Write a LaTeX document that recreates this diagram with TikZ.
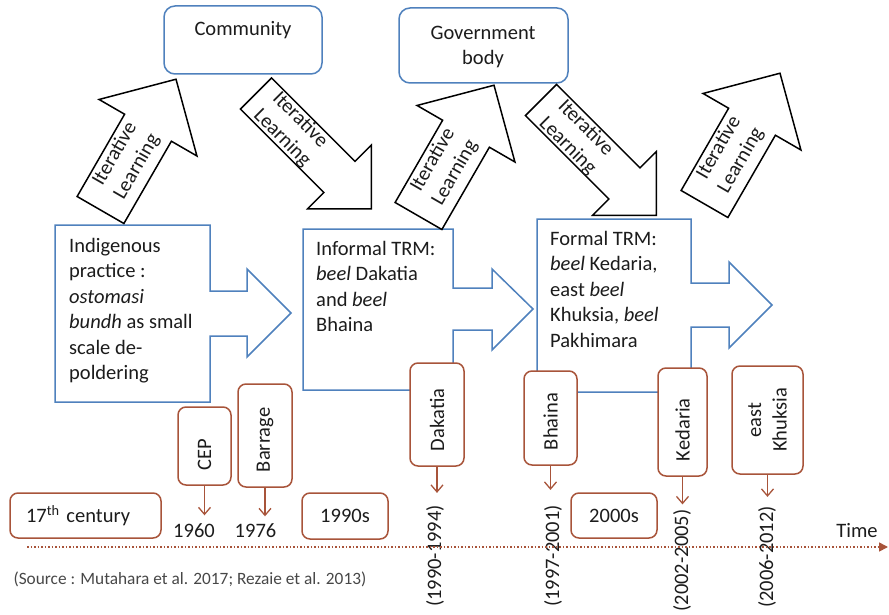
\documentclass[tikz,border=0pt]{standalone}
\usepackage{fontspec}
\setmainfont{Carlito}
\usetikzlibrary{arrows.meta}

\definecolor{boxblue}{RGB}{79,129,189}
\definecolor{datebrown}{RGB}{168,84,58}
\definecolor{txt}{RGB}{28,28,28}

\tikzset{
  every node/.style={font=\fontsize{20.5}{25.4}\selectfont, text=txt},
  learnarrow/.style={draw=black, line width=1.5pt, fill=white, line join=miter},
  uparrowpic/.pic={\draw[learnarrow] (0,-27) -- (95,-27) -- (95,-56.5) -- (151,0)
      -- (95,56.5) -- (95,27) -- (0,27) -- cycle;},
  downarrowpic/.pic={\draw[learnarrow] (0,-22) -- (118,-22) -- (118,-45) -- (163,0)
      -- (118,45) -- (118,22) -- (0,22) -- cycle;},
  learntext/.style={align=center, inner sep=0pt},
  actorbox/.style={draw=boxblue, line width=1.5pt, rounded corners=11pt, fill=white},
  stagebody/.style={draw=boxblue, line width=1.5pt, fill=white, line join=miter},
  stagetext/.style={align=left, anchor=north west, inner sep=0pt},
  eventbox/.style={draw=datebrown, line width=1.5pt, rounded corners=8pt, fill=white,
      rotate=90, inner xsep=15pt, inner ysep=0pt, align=left},
  erabox/.style={draw=datebrown, line width=1.5pt, rounded corners=8pt, fill=white},
  eventlink/.style={draw=datebrown, line width=1.3pt, -{Straight Barb[length=7pt,width=12pt]}},
  datetext/.style={inner sep=0pt},
  yeartext/.style={inner sep=0pt, rotate=90},
  timeline/.style={draw=datebrown, line width=1.6pt, dash pattern=on 1.6pt off 1.9pt,
      -{Triangle[length=9pt,width=9pt]}},
}

\begin{document}
\begin{tikzpicture}[x=1pt, y=-1pt]
\useasboundingbox (0,0) rectangle (889,615);

% actors at the top
\node[actorbox, minimum width=158pt, minimum height=68pt] (community) at (243,40) {};
\node[anchor=base] (communitylabel) at (243,36) {Community};
\node[actorbox, minimum width=169pt, minimum height=75pt] (govbody) at (483.5,45.5) {};
\node[align=center, anchor=north, inner sep=0pt] (govlabel) at (483,26) {Government\\body};

% stages of the practice, each a box with an arrow to the next
\draw[stagebody] (55,225) -- (210,225) -- (210,291) -- (247,291) -- (247,269) -- (291,313)
  -- (247,357) -- (247,336) -- (210,336) -- (210,402) -- (55,402) -- cycle;
\node[stagetext] (indigenous) at (69,238)
  {Indigenous\\practice :\\\textit{ostomasi}\\\textit{bundh} as small\\scale de-\\poldering};

\draw[stagebody] (303,229) -- (453,229) -- (453,288) -- (492,288) -- (492,269) -- (533,309)
  -- (492,350) -- (492,330) -- (453,330) -- (453,390) -- (303,390) -- cycle;
\node[stagetext] (informal) at (316,241)
  {Informal TRM:\\\textit{beel} Dakatia\\and \textit{beel}\\Bhaina};

\draw[stagebody] (537,219) -- (691,219) -- (691,283) -- (729,283) -- (729,262) -- (772,305)
  -- (729,348) -- (729,327) -- (691,327) -- (691,392) -- (537,392) -- cycle;
\node[stagetext] (formal) at (550,231)
  {Formal TRM:\\\textit{beel} Kedaria,\\east \textit{beel}\\Khuksia, \textit{beel}\\Pakhimara};

% iterative learning arrows
\pic[rotate=60] (up1) at (100.5,210) {uparrowpic};
\pic[rotate=-45] (down2) at (256,93.5) {downarrowpic};
\pic[rotate=60] (up3) at (418.5,216) {uparrowpic};
\pic[rotate=-45] (down4) at (541,100) {downarrowpic};
\pic[rotate=60] (up5) at (704.5,204) {uparrowpic};

\node[learntext, rotate=60] (learn1) at (126,160.5) {Iterative\\Learning};
\node[learntext, rotate=-45] (learn2) at (291,129) {Iterative\\Learning};
\node[learntext, rotate=60] (learn3) at (444,166.5) {Iterative\\Learning};
\node[learntext, rotate=-45] (learn4) at (576.5,137) {Iterative\\Learning};
\node[learntext, rotate=60] (learn5) at (730,154) {Iterative\\Learning};

% events
\node[eventbox, text width=48pt, minimum height=53pt] (cep) at (204.5,446) {CEP};
\node[eventbox, text width=73pt, minimum height=54pt] (barrage) at (265,435.5) {Barrage};
\node[eventbox, text width=73pt, minimum height=54pt] (dakatia) at (437,414.5) {Dakatia};
\node[eventbox, text width=64pt, minimum height=53pt] (bhaina) at (550.5,418) {Bhaina};
\node[eventbox, text width=78pt, minimum height=49pt] (kedaria) at (682.5,422) {Kedaria};
\node[eventbox, text width=78pt, minimum height=71pt, align=center] (khuksia) at (767.5,420) {east\\Khuksia};

% eras
\node[erabox, minimum width=151pt, minimum height=45pt, text width=119pt, inner xsep=16pt,
  align=left] (c17) at (85.5,515.5) {17\textsuperscript{th} century};
\node[erabox, minimum width=86pt, minimum height=46pt] (n1990s) at (345,516) {1990s};
\node[erabox, minimum width=86pt, minimum height=45pt] (n2000s) at (614,515.5) {2000s};

% dates
\node[datetext] (y1960) at (194,530.5) {1960};
\node[datetext] (y1976) at (255.5,530.5) {1976};
\node[yeartext] (d1990) at (435,556) {(1990-1994)};
\node[yeartext] (d1997) at (553,556) {(1997-2001)};
\node[yeartext] (d2002) at (682,560.5) {(2002-2005)};
\node[yeartext] (d2006) at (767,557) {(2006-2012)};

% links from events to their dates
\draw[eventlink, shorten >=8pt] (cep.west) -- (cep.west |- y1960.north);
\draw[eventlink, shorten >=7pt] (barrage.west) -- (barrage.west |- y1976.north);
\draw[eventlink, shorten >=12pt] (dakatia.west) -- (dakatia.west |- d1990.east);
\draw[eventlink, shorten >=15pt] (bhaina.west) -- (bhaina.west |- d1997.east);
\draw[eventlink, shorten >=5pt] (kedaria.west) -- (kedaria.west |- d2002.east);
\draw[eventlink, shorten >=9pt] (khuksia.west) -- (khuksia.west |- d2006.east);

% time axis
\coordinate (tstart) at (27,547);
\coordinate (tend) at (888,547);
\draw[timeline] (tstart) -- (tend);
\node[anchor=base] (timelabel) at (857,537) {Time};

\node[anchor=base west, font=\fontsize{17.3}{20}\selectfont, text=black!72] (source) at (10,584)
  {(Source : Mutahara et al. 2017; Rezaie et al. 2013)};
\end{tikzpicture}
\end{document}
